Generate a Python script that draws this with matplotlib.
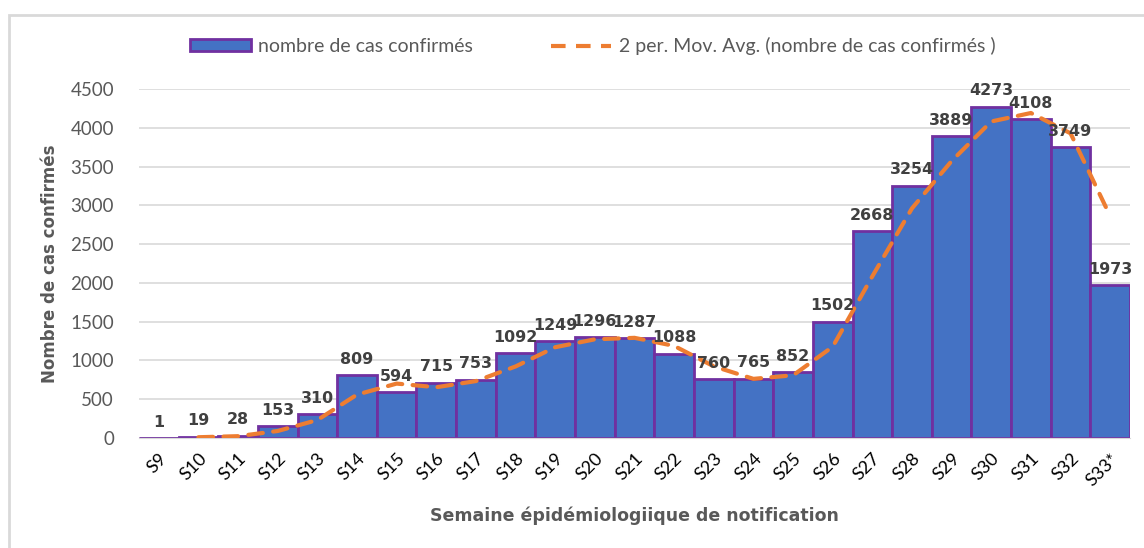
import pandas as pd
import matplotlib
import matplotlib.pyplot as plt
from matplotlib.patches import Rectangle, Patch
from matplotlib.lines import Line2D

matplotlib.use('Agg')
plt.rcParams['font.family'] = ['Lato', 'DejaVu Sans']
GRAS = ["DejaVu Sans"]

# données : cas confirmés par semaine épidémiologique
semaines = ["S9", "S10", "S11", "S12", "S13", "S14", "S15", "S16", "S17", "S18",
            "S19", "S20", "S21", "S22", "S23", "S24", "S25", "S26", "S27", "S28",
            "S29", "S30", "S31", "S32", "S33*"]
cas = [1, 19, 28, 153, 310, 809, 594, 715, 753, 1092,
       1249, 1296, 1287, 1088, 760, 765, 852, 1502, 2668, 3254,
       3889, 4273, 4108, 3749, 1973]

df = pd.DataFrame({"semaine": semaines, "cas": cas})
df["moy_mob"] = df["cas"].rolling(2).mean()

W, H = 1144, 548
fig = plt.figure(figsize=(W / 100, H / 100), dpi=100)

# cadre gris clair autour du graphique
fig.patches.append(Rectangle((9 / W, -0.1), 1.2, 1 - 15 / H + 0.1, transform=fig.transFigure,
                             fill=False, edgecolor="#D9D9D9", linewidth=2))

ax = fig.add_axes([139 / W, 1 - 438 / H, (1130 - 139) / W, (438 - 89) / H])

x = range(len(df))
ax.bar(x, df["cas"], width=1.0, color="#4472C4", edgecolor="#7030A0", linewidth=2, zorder=2)
ax.plot(df.index, df["moy_mob"], color="#ED7D31", linestyle=(0, (3.5, 2.5)), linewidth=3,
        zorder=3, dash_capstyle="round")

for i, v in enumerate(df["cas"]):
    ax.annotate(str(v), (i, v), xytext=(0, 6), textcoords="offset points", ha="center",
                va="bottom", fontsize=11.4, fontweight="bold", color="#404040", zorder=4,
                family=GRAS)

ax.set_xlim(-0.5, len(df) - 0.5)
ax.set_ylim(0, 4500)
ax.set_yticks(range(0, 4501, 500))
ax.yaxis.grid(True, color="#D9D9D9", linewidth=1.2, zorder=0)
ax.set_axisbelow(True)
for s in ["top", "right", "left"]:
    ax.spines[s].set_visible(False)
ax.spines["bottom"].set_color("#D9D9D9")
ax.tick_params(axis="y", length=0, labelsize=13.5, colors="#595959", pad=18)
ax.set_xticks(list(x))
ax.set_xticklabels(df["semaine"], rotation=45, ha="right", rotation_mode="anchor", color="#000000")
ax.tick_params(axis="x", length=0, labelsize=13, pad=9)

ax.set_ylabel("Nombre de cas confirmés", fontsize=12, fontweight="bold", color="#595959",
              labelpad=8, family=GRAS)
ax.set_xlabel("Semaine épidémiologiique de notification", fontsize=12.5, fontweight="bold",
              color="#595959", labelpad=13, family=GRAS)

handles = [Patch(facecolor="#4472C4", edgecolor="#7030A0", linewidth=2),
           Line2D([0], [0], color="#ED7D31", linestyle=(0, (3.5, 2.5)), linewidth=3)]
fig.legend(handles, ["nombre de cas confirmés", "2 per. Mov. Avg. (nombre de cas confirmés )"],
           loc="center", bbox_to_anchor=(593 / W, 1 - 46 / H), ncol=2, frameon=False,
           fontsize=14, labelcolor="#595959", columnspacing=4.0, handlelength=3.1,
           handletextpad=0.4, handleheight=0.6)

fig.savefig("out.png", dpi=100)
